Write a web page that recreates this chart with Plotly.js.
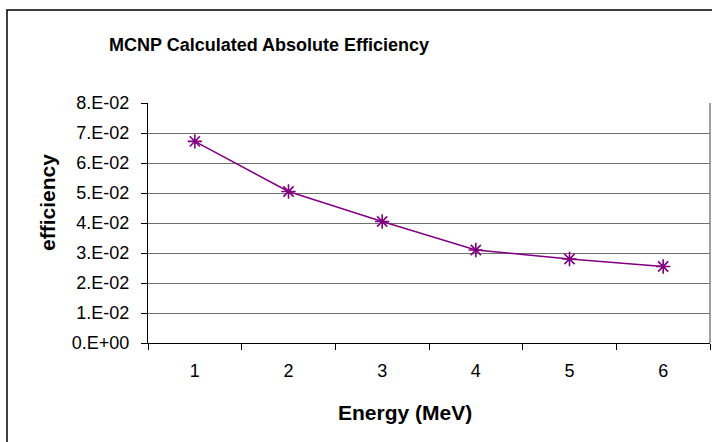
<!DOCTYPE html>
<html>
<head>
<meta charset="utf-8">
<script src="https://cdn.plot.ly/plotly-3.0.1.min.js"></script>
<style>html,body{margin:0;padding:0;background:#fff;}#chart{width:712px;height:442px;}</style>
</head>
<body>
<div id="chart"></div>
<script>
var energies = ["1", "2", "3", "4", "5", "6"];
var efficiency = [0.0672, 0.0505, 0.0405, 0.0310, 0.0280, 0.0255];
var yTickVals = [0, 0.01, 0.02, 0.03, 0.04, 0.05, 0.06, 0.07, 0.08];
var yTickText = ["0.E+00", "1.E-02", "2.E-02", "3.E-02", "4.E-02", "5.E-02", "6.E-02", "7.E-02", "8.E-02"];

var W = 712, H = 442, L = 148, R = 2, T = 103, B = 99;
var pw = W - L - R, ph = H - T - B;
function px(x) { return (x - L) / pw; }
function py(y) { return (H - B - y) / ph; }

var font = "Arial, 'Liberation Sans', sans-serif";

var trace = {
  x: energies,
  y: efficiency,
  type: "scatter",
  mode: "lines+markers",
  line: {color: "#800080", width: 1.5},
  marker: {symbol: "asterisk-open", size: 12, color: "#800080", line: {color: "#800080", width: 1.6}},
  hoverinfo: "skip"
};

var layout = {
  width: W, height: H,
  margin: {l: L, r: R, t: T, b: B, pad: 0},
  paper_bgcolor: "#ffffff",
  plot_bgcolor: "#ffffff",
  showlegend: false,
  font: {family: font, color: "#000000", size: 17},
  title: {
    text: "<b>MCNP Calculated Absolute Efficiency</b>",
    font: {family: font, size: 18, color: "#000"},
    xref: "container", yref: "container",
    x: 269 / W, y: 1 - 45 / H, xanchor: "center", yanchor: "middle"
  },
  xaxis: {
    type: "category",
    range: [-0.5, 5.5],
    tickson: "boundaries",
    ticks: "outside", ticklen: 6, tickcolor: "#000", tickwidth: 1,
    showline: true, linecolor: "#000", linewidth: 1,
    showgrid: false, zeroline: false,
    tickfont: {family: font, size: 18, color: "#000"},
    ticklabelstandoff: 11,
    fixedrange: true
  },
  yaxis: {
    range: [0, 0.08],
    tickvals: yTickVals,
    ticktext: yTickText,
    ticks: "outside", ticklen: 6, tickcolor: "#000", tickwidth: 1,
    showline: true, linecolor: "#000", linewidth: 1,
    showgrid: true, gridcolor: "#6e6e6e", gridwidth: 1,
    zeroline: false,
    tickfont: {family: font, size: 18, color: "#000"},
    ticklabelstandoff: 8,
    fixedrange: true
  },
  shapes: [
    {type: "line", xref: "paper", yref: "paper", x0: 1, x1: 1, y0: 0, y1: 1, line: {color: "#808080", width: 1.5}},
    {type: "rect", xref: "paper", yref: "paper", x0: px(7), x1: px(730), y0: py(460), y1: py(10), line: {color: "#000", width: 1.5}, layer: "above"}
  ],
  annotations: [
    {text: "<b>efficiency</b>", xref: "paper", yref: "paper", x: px(47), y: py(203), textangle: -90, showarrow: false, xanchor: "center", yanchor: "middle", font: {family: font, size: 21, color: "#000"}},
    {text: "<b>Energy (MeV)</b>", xref: "paper", yref: "paper", x: px(405), y: py(412), showarrow: false, xanchor: "center", yanchor: "middle", font: {family: font, size: 21, color: "#000"}}
  ]
};

Plotly.newPlot("chart", [trace], layout, {displayModeBar: false, staticPlot: true});
</script>
</body>
</html>
